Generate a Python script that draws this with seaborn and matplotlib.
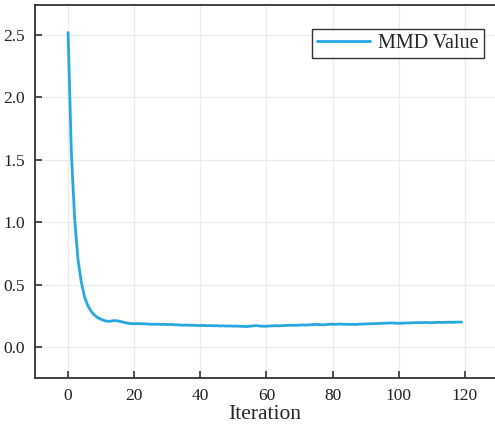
import numpy as np
import pandas as pd
import matplotlib
matplotlib.use("Agg")
import matplotlib.pyplot as plt
import seaborn as sns

# MMD value per iteration
mmd_values = [
    2.52, 1.55, 1.02, 0.70, 0.52, 0.40, 0.33, 0.285, 0.255, 0.235,
    0.222, 0.212, 0.206, 0.208, 0.212, 0.209, 0.204, 0.197, 0.191, 0.188,
    0.187, 0.188, 0.186, 0.187, 0.184, 0.183, 0.182, 0.183, 0.181, 0.182,
    0.180, 0.181, 0.179, 0.178, 0.176, 0.175, 0.176, 0.174, 0.175, 0.173,
    0.172, 0.173, 0.171, 0.172, 0.170, 0.171, 0.169, 0.170, 0.168, 0.169,
    0.167, 0.168, 0.166, 0.165, 0.164, 0.167, 0.170, 0.172, 0.168, 0.166,
    0.167, 0.169, 0.170, 0.171, 0.170, 0.172, 0.173, 0.174, 0.175, 0.174,
    0.176, 0.177, 0.176, 0.178, 0.179, 0.181, 0.180, 0.178, 0.180, 0.182,
    0.183, 0.182, 0.184, 0.183, 0.182, 0.181, 0.182, 0.181, 0.183, 0.184,
    0.185, 0.186, 0.187, 0.188, 0.189, 0.190, 0.191, 0.192, 0.193, 0.191,
    0.190, 0.191, 0.192, 0.193, 0.194, 0.195, 0.196, 0.195, 0.197, 0.196,
    0.195, 0.197, 0.198, 0.197, 0.198, 0.199, 0.198, 0.199, 0.200, 0.200,
]
iterations = list(range(len(mmd_values)))
x_ticks = [0, 20, 40, 60, 80, 100, 120]
y_ticks = [0.0, 0.5, 1.0, 1.5, 2.0, 2.5]

df = pd.DataFrame({"Iteration": iterations, "MMD Value": mmd_values})

sns.set_style("white")
plt.rcParams["font.family"] = ["Liberation Serif", "DejaVu Serif"]

fig = plt.figure(figsize=(4.95, 4.25), dpi=100)
ax = fig.add_axes([35 / 495, 1 - 378 / 425, 1 - 35 / 495, 373 / 425])

sns.lineplot(data=df, x="Iteration", y="MMD Value", color="#27a8e0",
             linewidth=2.0, label="MMD Value", ax=ax)

ax.set_xlim(-10, 129.1)
ax.set_ylim(-0.248, 2.74)
ax.set_xticks(x_ticks)
ax.set_yticks(y_ticks)
ax.set_yticklabels([f"{v:.1f}" for v in y_ticks])
ax.grid(True, color="#ebebeb", linewidth=0.9)
ax.set_axisbelow(True)

for side in ["left", "top", "bottom"]:
    ax.spines[side].set_color("#333333")
    ax.spines[side].set_linewidth(1.3)
ax.spines["right"].set_visible(False)

ax.tick_params(axis="both", direction="in", length=5, width=1.2,
               color="#333333", labelsize=12.5, labelcolor="#222222", pad=7)
ax.tick_params(axis="y", which="both", right=False, left=True)
ax.tick_params(axis="x", which="both", top=False, bottom=True)

ax.set_xlabel("Iteration", fontsize=15.5, labelpad=1)
ax.set_ylabel("")

leg = ax.legend(loc="upper right", bbox_to_anchor=(0.975, 0.935),
                fontsize=14.5, frameon=True, fancybox=False, handlelength=2.6,
                handletextpad=0.4, borderpad=0.25, borderaxespad=0)
leg.get_frame().set_edgecolor("black")
leg.get_frame().set_linewidth(1.0)

fig.savefig("out.png", dpi=100)
